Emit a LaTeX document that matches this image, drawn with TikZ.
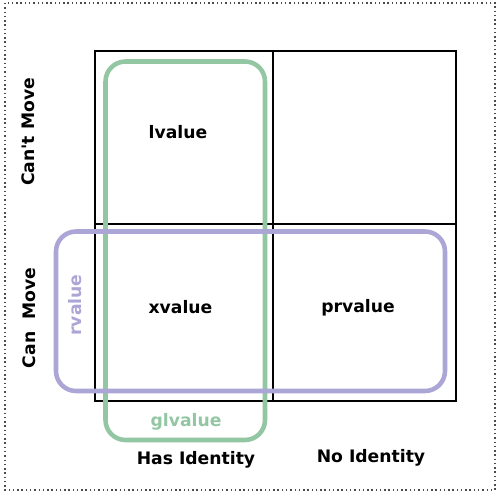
\documentclass[tikz,border=0pt]{standalone}
\usepackage{fontspec}
\setmainfont{DejaVu Sans}
\usepackage{tikz}
\usetikzlibrary{positioning}
\definecolor{glgreen}{RGB}{147,198,163}
\definecolor{rvpurple}{RGB}{171,166,214}
\tikzset{
    cell/.style={draw=black, line width=1.1pt},
    group/.style={line width=3.4pt, rounded corners=15pt},
    lbl/.style={font=\fontsize{12.9}{15}\selectfont\bfseries, inner sep=0pt}
}

\begin{document}
\begin{tikzpicture}[x=0.75pt, y=-0.75pt]
    \useasboundingbox (0,0) rectangle (497,492);
    \draw[dash pattern=on 1.1pt off 2.1pt, line width=1.1pt, black!70] (5,3) rectangle (495,490);
    % the 2x2 table
    \draw[cell] (95,51) rectangle (456,401);
    \draw[cell] (273,51) -- (273,401);
    \draw[cell] (95,224) -- (456,224);
    % value categories
    \draw[group, draw=glgreen] (105.5,61.5) rectangle (265,440);
    \draw[group, draw=rvpurple] (56,231.5) rectangle (445,391);
    \node[lbl] (lval) at (178,132) {lvalue};
    \node[lbl] (xval) at (180.5,307) {xvalue};
    \node[lbl] (prval) at (358,308) {prvalue};
    \node[lbl, text=glgreen] (glval) at (186,422) {glvalue};
    \node[lbl, text=rvpurple, rotate=90] (rval) at (75,305) {rvalue};
    \node[lbl] (hasid) at (196,460) {Has Identity};
    \node[lbl] (noid) at (371,458) {No Identity};
    \node[lbl, rotate=90] (cantmv) at (28,132) {Can\textquotesingle t Move};
    \node[lbl, rotate=90] (canmv) at (29,318) {Can\ \ Move};
\end{tikzpicture}
\end{document}
